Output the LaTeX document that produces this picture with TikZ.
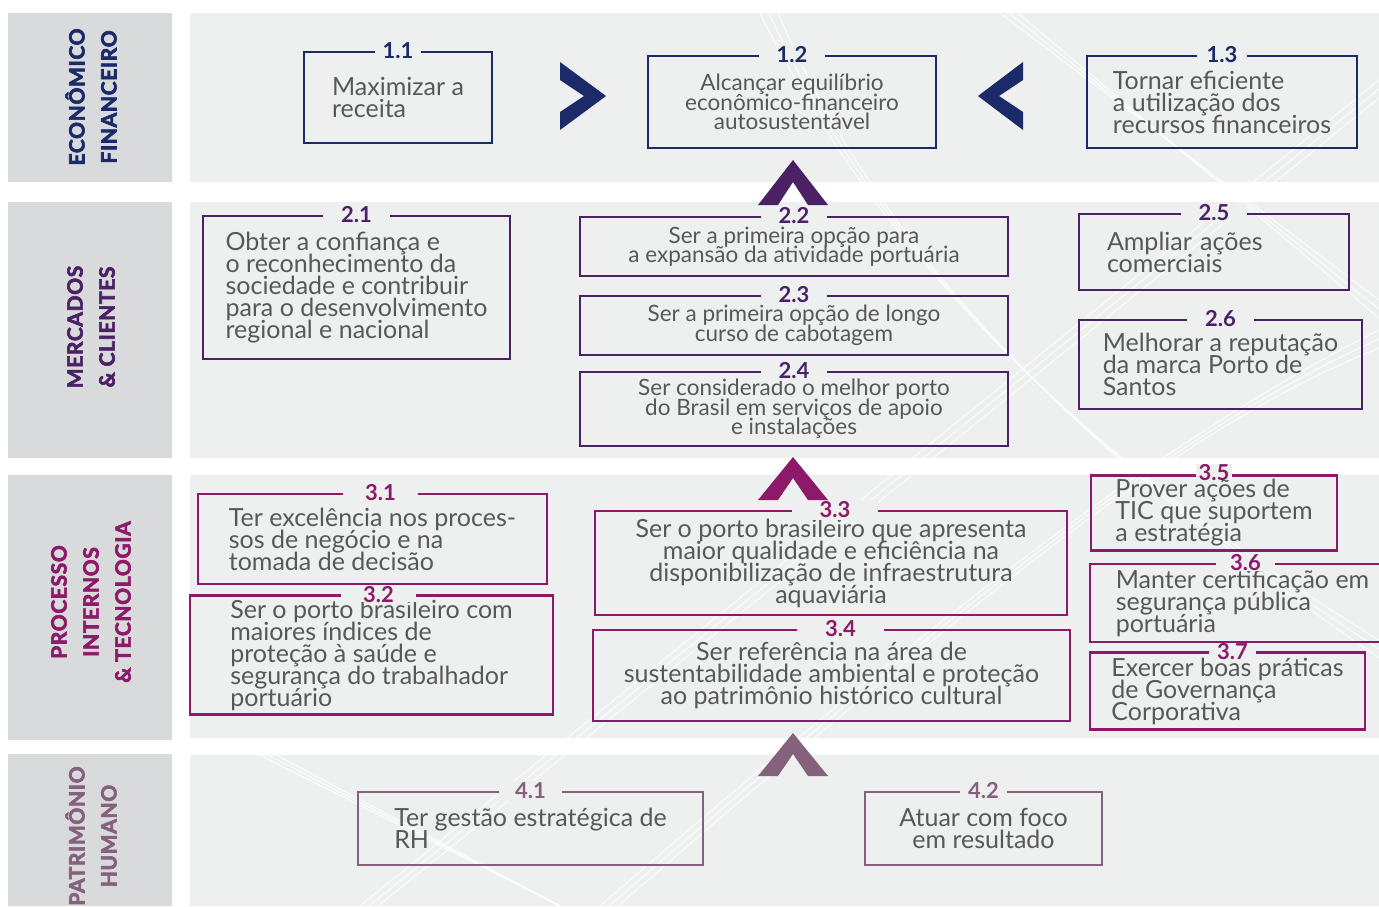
\documentclass[tikz,border=0pt]{standalone}
\usepackage{fontspec}
\setmainfont{Lato}
\usetikzlibrary{positioning}
\definecolor{navy}{HTML}{1B2A69}
\definecolor{roxo}{HTML}{4B2166}
\definecolor{magenta2}{HTML}{8C1A69}
\definecolor{malva}{HTML}{86617C}
\definecolor{cinzalbl}{HTML}{D9DADC}
\definecolor{cinzafx}{HTML}{EEEFEF}
\definecolor{cinzatxt}{HTML}{58585A}
\newcommand\apertado{\lineskiplimit=-40pt\relax}
\begin{document}
\begin{tikzpicture}[x=1pt,y=-1pt,line join=miter,
    goal/.style={draw=#1,line width=2.6pt,text=cinzatxt,inner sep=0pt,align=left,font=\fontsize{25}{22}\selectfont\apertado},
    goalc/.style={goal=#1,align=center},
    small/.style={font=\fontsize{22.5}{19.5}\selectfont\apertado},
    num/.style={fill=cinzafx,text=#1,inner sep=0pt,inner xsep=12pt,minimum height=20pt,font=\fontsize{22}{22}\selectfont\bfseries},
    hdr/.style={rotate=90,align=center,text=#1,font=\fontsize{21}{32}\selectfont\bfseries\addfontfeature{LetterSpace=3,FakeBold=3}},
    trilho/.style={white,line width=1.3pt,opacity=.7},
    chev/.style={fill=#1}]
\useasboundingbox (0,0) rectangle (1379,906);
% faixas
\fill[cinzalbl] (8,13) rectangle (172,182) (8,202) rectangle (172,458) (8,475) rectangle (172,740) (8,754) rectangle (172,906);
\fill[cinzafx] (190,13) rectangle (1379,182) (190,202) rectangle (1379,458) (190,475) rectangle (1379,738) (190,755) rectangle (1379,906);
% linhas de fundo
\begin{scope}
\clip (190,13) rectangle (1379,906);
\foreach \d in {0,9,18}{
  \draw[trilho] (360+\d,906) -- (1379,80+\d);
  \draw[trilho] (600+\d,906) .. controls (1000+\d,560) and (1200,420) .. (1379,330+\d);
  \draw[trilho] (1379,640+\d) .. controls (1150,500) and (900,300) .. (760+\d,13);
  \draw[trilho] (1000+\d,13) -- (1379,300+\d);
  \draw[trilho] (230+\d,740) -- (560,906);
}
\end{scope}
\node[hdr=navy] (h1) at (91,97) {ECONÔMICO\\FINANCEIRO};
\node[hdr=roxo] (h2) at (91,327) {MERCADOS\\\& CLIENTES};
\node[hdr=magenta2] (h3) at (91,602) {PROCESSO\\INTERNOS\\\& TECNOLOGIA};
\node[hdr=malva] (h4) at (91,836) {PATRIMÔNIO\\HUMANO};
% 1 economico-financeiro
\node[goal=navy,minimum width=188pt,minimum height=91pt] (g11) at (398,97.5) {Maximizar a\\receita};
\node[goalc=navy,small,minimum width=288pt,minimum height=92pt] (g12) at (792,102) {Alcançar equilíbrio\\econômico-financeiro\\autosustentável};
\node[goal=navy,minimum width=270pt,minimum height=92pt] (g13) at (1222,102) {Tornar eficiente\\a utilização dos\\recursos financeiros};
\node[num=navy,inner xsep=8pt] (n11) at (g11.north) {1.1};
\node[num=navy,inner xsep=18pt] (n12) at (g12.north) {1.2};
\node[num=navy,inner xsep=10pt] (n13) at (g13.north) {1.3};
\fill[chev=navy] (560,62) -- (606,96) -- (560,130) -- (560,112) -- (584,96) -- (560,80) -- cycle;
\fill[chev=navy] (1023,62) -- (978,96) -- (1023,130) -- (1023,112) -- (999,96) -- (1023,80) -- cycle;
% 2 mercados e clientes
\node[goal=roxo,minimum width=307pt,minimum height=143pt] (g21) at (356.5,287.5) {Obter a confiança e\\o reconhecimento da\\sociedade e contribuir\\para o desenvolvimento\\regional e nacional};
\node[goalc=roxo,small,minimum width=428pt,minimum height=59pt] (g22) at (794,246.5) {Ser a primeira opção para\\a expansão da atividade portuária};
\node[goalc=roxo,small,minimum width=428pt,minimum height=59pt] (g23) at (794,325.5) {Ser a primeira opção de longo\\curso de cabotagem};
\node[goalc=roxo,small,minimum width=428pt,minimum height=74pt] (g24) at (794,409) {Ser considerado o melhor porto\\do Brasil em serviços de apoio\\e instalações};
\node[goal=roxo,minimum width=270pt,minimum height=76pt,text width=214pt] (g25) at (1214,252) {Ampliar ações\\comerciais};
\node[goal=roxo,minimum width=283pt,minimum height=89pt] (g26) at (1220.5,364.5) {Melhorar a reputação\\da marca Porto de\\Santos};
\foreach \g/\t in {21/2.1,22/2.2,23/2.3,24/2.4,25/2.5,26/2.6}
  \node[num=roxo,inner xsep=18pt] (n\g) at (g\g.north) {\t};
\fill[chev=roxo] (793,160) -- (828,205) -- (808,205) -- (793,182) -- (778,205) -- (758,205) -- cycle;
% 3 processos internos
\node[goal=magenta2,minimum width=349pt,minimum height=90pt] (g31) at (372.5,539) {Ter excelência nos proces-\\sos de negócio e na\\tomada de decisão};
\node[goal=magenta2,minimum width=363pt,minimum height=119pt] (g32) at (371.5,655) {Ser o porto brasileiro com\\maiores índices de\\proteção à saúde e\\segurança do trabalhador\\portuário};
\node[goalc=magenta2,minimum width=472pt,minimum height=104pt] (g33) at (831,563) {Ser o porto brasileiro que apresenta\\maior qualidade e eficiência na\\disponibilização de infraestrutura\\aquaviária};
\node[goalc=magenta2,minimum width=477pt,minimum height=91pt] (g34) at (831.5,675.5) {Ser referência na área de\\sustentabilidade ambiental e proteção\\ao patrimônio histórico cultural};
\node[goal=magenta2,minimum width=246pt,minimum height=75pt] (g35) at (1214,513) {Prover ações de\\TIC que suportem\\a estratégia};
\node[goal=magenta2,minimum width=305pt,minimum height=78pt] (g36) at (1242.5,603) {Manter certificação em\\segurança pública\\portuária};
\node[goal=magenta2,minimum width=275pt,minimum height=77pt] (g37) at (1227.5,691) {Exercer boas práticas\\de Governança\\Corporativa};
\node[num=magenta2,inner xsep=22pt] (n31) at ([xshift=8pt]g31.north) {3.1};
\node[num=magenta2,inner xsep=22pt,minimum height=14pt] (n32) at ([xshift=7pt]g32.north) {3.2};
\node[num=magenta2,inner xsep=28pt] (n33) at ([xshift=4pt]g33.north) {3.3};
\node[num=magenta2,inner xsep=28pt] (n34) at ([xshift=9pt]g34.north) {3.4};
\node[num=magenta2,inner xsep=3pt,minimum height=8pt] (n35) at ([yshift=2pt]g35.north) {3.5};
\node[num=magenta2,inner xsep=14pt,minimum height=8pt] (n36) at ([xshift=3pt]g36.north) {3.6};
\node[num=magenta2,inner xsep=8pt,minimum height=8pt] (n37) at ([xshift=5pt]g37.north) {3.7};
\fill[chev=magenta2] (793,457) -- (828,500) -- (808,500) -- (793,478) -- (778,500) -- (758,500) -- cycle;
% 4 patrimonio humano
\node[goal=malva,minimum width=345pt,minimum height=73pt] (g41) at (530.5,828.5) {Ter gestão estratégica de\\RH};
\node[goalc=malva,minimum width=237pt,minimum height=73pt] (g42) at (983.5,828.5) {Atuar com foco\\em resultado};
\node[num=malva,inner xsep=16pt] (n41) at (g41.north) {4.1};
\node[num=malva,inner xsep=8pt] (n42) at (g42.north) {4.2};
\fill[chev=malva] (793,733) -- (828,776) -- (808,776) -- (793,754) -- (778,776) -- (758,776) -- cycle;
\end{tikzpicture}
\end{document}
